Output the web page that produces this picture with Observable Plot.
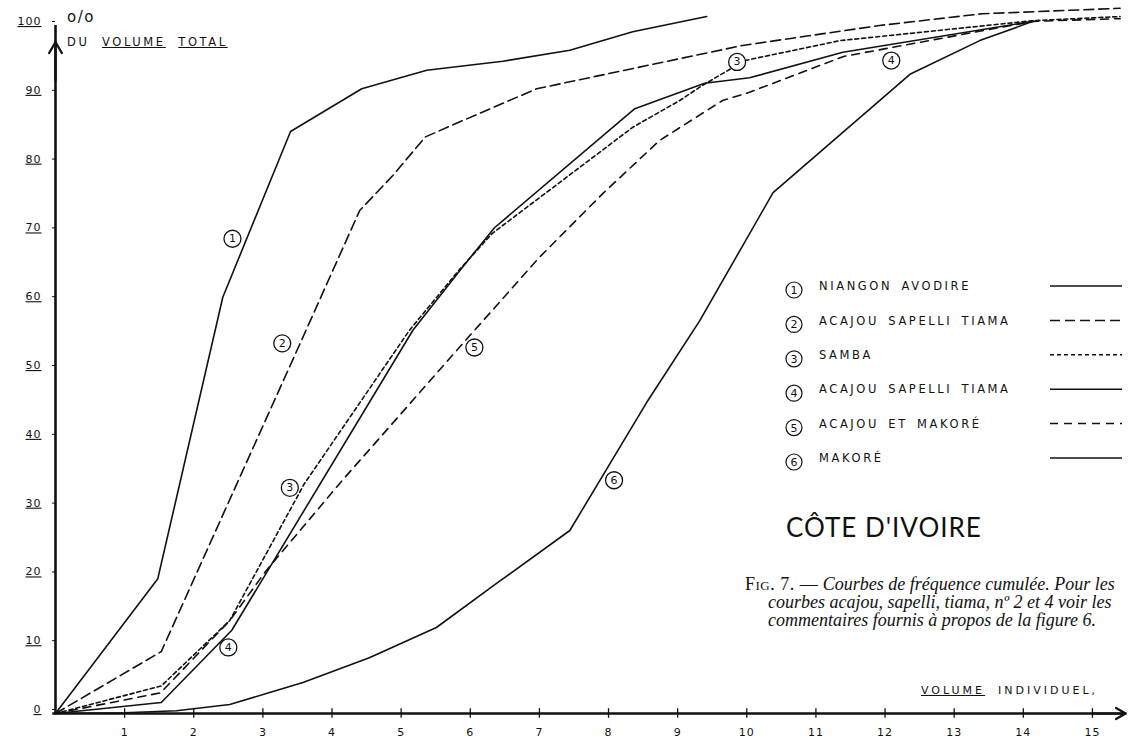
<!DOCTYPE html>
<html>
<head>
<meta charset="utf-8">
<script src="https://cdn.jsdelivr.net/npm/d3@7"></script>
<script src="https://cdn.jsdelivr.net/npm/@observablehq/plot@0.6"></script>
<style>
  html, body { margin: 0; padding: 0; background: #fff; overflow: hidden; }
  #fig { position: relative; width: 1129px; height: 739px; overflow: hidden; background: #fff; }
  #fig svg { position: absolute; left: 0; top: 0; }
  .hand { position: absolute; font-family: "DejaVu Sans", sans-serif; color: #111; white-space: nowrap; }
  .title { position: absolute; left: 786px; top: 511px; font-family: Lato, "Open Sans", sans-serif;
           font-size: 26px; letter-spacing: 1px; color: #111; white-space: nowrap; }
  .caption { position: absolute; left: 745px; top: 575px; font-family: "Liberation Serif", serif;
             font-size: 18px; line-height: 18px; color: #111; white-space: nowrap; }
  .caption i { font-style: italic; }
  .caption .sc { font-variant: small-caps; font-style: normal; letter-spacing: 0.5px; }
  .caption .in { padding-left: 23px; }
</style>
</head>
<body>
<div id="fig"></div>
<script>
// Cumulative frequency curves, Côte d'Ivoire: % of total volume vs individual volume
const curveIds = [1, 2, 3, 4, 5, 6];
const curveNames = ["NIANGON AVODIRE", "ACAJOU SAPELLI TIAMA", "SAMBA",
                    "ACAJOU SAPELLI TIAMA", "ACAJOU ET MAKORÉ", "MAKORÉ"];

const c1x = [0, 1.48, 2.42, 3.40, 4.43, 5.37, 6.47, 7.44, 8.35, 9.42];
const c1y = [0, 19.6, 60.5, 84.6, 90.8, 93.5, 94.8, 96.4, 99.1, 101.3];

const c2x = [0, 1.53, 3.53, 4.40, 4.88, 5.35, 5.85, 6.96, 9.94, 11.92, 13.4, 15.4];
const c2y = [0, 9.0, 53.6, 73.1, 78.2, 83.8, 86.0, 90.8, 97.1, 100.0, 101.7, 102.5];

const c3x = [0, 1.53, 2.52, 3.60, 5.12, 5.85, 6.32, 8.35, 9.03, 9.36, 9.97, 11.35, 14.14, 15.4];
const c3y = [0, 4.0, 13.5, 33.4, 55.7, 64.6, 69.8, 85.2, 89.1, 91.3, 94.9, 97.8, 100.7, 101.3];

const c4x = [0, 1.53, 2.55, 5.17, 5.85, 6.35, 8.38, 9.39, 10.04, 11.39, 14.14];
const c4y = [0, 1.6, 12.1, 55.7, 64.4, 70.6, 87.9, 91.6, 92.4, 96.1, 100.6];

const c5x = [0, 1.52, 2.52, 3.05, 4.15, 6.0, 7.0, 7.92, 8.74, 9.65, 10.04, 11.4, 14.14, 15.4];
const c5y = [0, 3.0, 13.5, 20.8, 33.9, 55.0, 66.3, 75.6, 83.3, 89.1, 90.3, 95.5, 100.6, 101.0];

const c6x = [0, 1.0, 1.75, 2.52, 3.05, 3.58, 4.54, 5.51, 6.38, 7.44, 8.57, 9.32, 10.38, 12.36, 13.37, 14.14];
const c6y = [0, 0.1, 0.4, 1.3, 2.9, 4.5, 8.1, 12.5, 18.9, 26.6, 45.5, 57.1, 75.7, 92.9, 97.8, 100.6];

// circled curve numbers placed along the curves (data coordinates)
const calloutIds = [1, 2, 3, 3, 4, 4, 5, 6];
const calloutX   = [2.56, 3.28, 3.39, 9.86, 2.50, 12.09, 6.06, 8.08];
const calloutY   = [69.0, 53.8, 32.8, 94.7, 9.6, 94.9, 53.2, 33.9];

const xTicks = [1, 2, 3, 4, 5, 6, 7, 8, 9, 10, 11, 12, 13, 14, 15];
const yTicks = [0, 10, 20, 30, 40, 50, 60, 70, 80, 90, 100];

// line style per curve
const curveDash = [null, "10,5", "4,3", null, "8,6", null];

const xs = [c1x, c2x, c3x, c4x, c5x, c6x];
const ys = [c1y, c2y, c3y, c4y, c5y, c6y];
const points = curveIds.flatMap((id, i) => xs[i].map((x, j) => ({id, x, y: ys[i][j]})));
const callouts = calloutIds.map((n, i) => ({n, x: calloutX[i], y: calloutY[i]}));

const curveMarks = curveIds.map((id, i) =>
  Plot.line(points.filter(d => d.id === id), {
    x: "x", y: "y", stroke: "#111", strokeWidth: 1.6,
    strokeDasharray: curveDash[i] ?? undefined, strokeLinejoin: "round"
  })
);

const chart = Plot.plot({
  width: 1129,
  height: 739,
  marginLeft: 55,
  marginRight: 2.5,
  marginTop: 4,
  marginBottom: 26,
  x: {domain: [0, 15.5]},
  y: {domain: [0, 103.05]},
  style: {background: "transparent", color: "#111", fontFamily: "DejaVu Sans, sans-serif"},
  marks: [
    Plot.axisX({ticks: xTicks, tickSize: 0, tickPadding: 15, fontSize: 11, label: null}),
    Plot.ruleX(xTicks, {x: d => d, y1: -0.7, y2: 0.7, strokeWidth: 1.3}),
    Plot.axisY({ticks: yTicks, tickSize: 3, tickPadding: 11, fontSize: 11, label: null, dy: -4}),
    Plot.ruleY([0], {x1: -0.04, x2: 15.5, strokeWidth: 2.6}),
    Plot.ruleX([0], {y1: 0, y2: 100, strokeWidth: 2.6}),
    Plot.arrow([0], {x1: 0, x2: 0, y1: 92, y2: 97.6, headLength: 13, strokeWidth: 2.2, stroke: "#111"}),
    Plot.arrow([0], {x1: 15.0, x2: 15.48, y1: 0, y2: 0, headLength: 9, strokeWidth: 2.2, stroke: "#111"}),
    ...curveMarks,
    Plot.dot(callouts, {x: "x", y: "y", r: 8.5, fill: "white", stroke: "#111", strokeWidth: 1.3}),
    Plot.text(callouts, {x: "x", y: "y", text: "n", fontSize: 11, fill: "#111"})
  ]
});

const fig = document.getElementById("fig");
fig.appendChild(chart);
d3.select(chart).selectAll('[aria-label="y-axis tick label"] text')
  .style("text-decoration", "underline")
  .attr("letter-spacing", "1px");
d3.select(chart).selectAll('[aria-label="x-axis tick label"] text')
  .attr("letter-spacing", "1px");

// axis titles, title block and caption
fig.insertAdjacentHTML("beforeend", `
  <div class="hand" style="left:67px;top:8px;font-size:15px;letter-spacing:1.5px;">o/o</div>
  <div class="hand" style="left:67px;top:35px;font-size:11.5px;letter-spacing:2.6px;">DU&nbsp; <u>VOLUME</u>&nbsp; <u>TOTAL</u></div>
  <div class="hand" style="left:921px;top:684px;font-size:11px;letter-spacing:3px;"><u>VOLUME</u>&nbsp; INDIVIDUEL,</div>
  <div class="title">CÔTE D'IVOIRE</div>
  <div class="caption">
    <div><span class="sc">Fig. 7. —</span> <i>Courbes de fréquence cumulée. Pour les</i></div>
    <div class="in"><i>courbes acajou, sapelli, tiama, nº 2 et 4 voir les</i></div>
    <div class="in"><i>commentaires fournis à propos de la figure 6.</i></div>
  </div>
`);

// legend: circled number, name, line sample
const legend = d3.select(fig).append("svg")
  .attr("width", 1129).attr("height", 739)
  .style("position", "absolute").style("left", 0).style("top", 0)
  .style("pointer-events", "none");
const rowY = d3.scaleLinear().domain([0, 5]).range([286, 458]);
const row = legend.selectAll("g").data(curveIds).join("g")
  .attr("transform", (d, i) => `translate(0,${rowY(i)})`);
row.append("circle").attr("cx", 794).attr("cy", 4).attr("r", 8)
  .attr("fill", "white").attr("stroke", "#111").attr("stroke-width", 1.2);
row.append("text").attr("x", 794).attr("y", 4).attr("dy", "0.36em")
  .attr("text-anchor", "middle").attr("font-family", "DejaVu Sans").attr("font-size", 11)
  .attr("fill", "#111").text(d => d);
row.append("text").attr("x", 819).attr("y", 0).attr("dy", "0.36em")
  .attr("font-family", "DejaVu Sans").attr("font-size", 11.5).attr("letter-spacing", "2.6px")
  .attr("word-spacing", "3px")
  .attr("fill", "#111").text((d, i) => curveNames[i]);
row.append("line").attr("x1", 1050).attr("x2", 1122).attr("y1", 0).attr("y2", 0)
  .attr("stroke", "#111").attr("stroke-width", 1.5)
  .attr("stroke-dasharray", (d, i) => curveDash[i]);
</script>
</body>
</html>
